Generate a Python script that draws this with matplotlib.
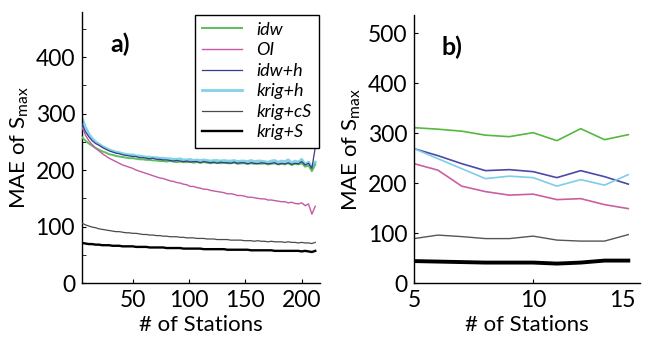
import numpy as np
import matplotlib
matplotlib.use('Agg')
import matplotlib.pyplot as plt

plt.rcParams['font.family'] = ['Lato', 'DejaVu Sans']
plt.rcParams['mathtext.default'] = 'regular'

# panel a) - values every 3 stations
idw_a = [258, 252, 247, 243, 239, 236, 233, 231, 228, 227,
         225, 224, 223, 222, 221, 221, 220, 219, 219, 218,
         218, 217, 217, 216, 216, 215, 216, 215, 214, 215,
         214, 214, 215, 213, 214, 213, 214, 213, 212, 213,
         213, 212, 213, 212, 212, 213, 211, 212, 212, 211,
         212, 211, 212, 211, 212, 210, 211, 212, 210, 211,
         210, 212, 209, 211, 210, 212, 206, 208, 198, 210]
oi_a = [276, 262, 252, 245, 239, 234, 229, 225, 221, 218,
        215, 212, 209, 207, 205, 203, 200, 198, 196, 194,
        192, 190, 188, 186, 185, 183, 181, 180, 178, 177,
        175, 174, 171, 171, 169, 168, 166, 166, 164, 163,
        162, 161, 160, 158, 158, 157, 155, 155, 154, 152,
        152, 151, 150, 149, 149, 147, 147, 146, 145, 144,
        144, 142, 143, 141, 140, 142, 137, 140, 122, 136]
idwh_a = [282, 268, 259, 252, 247, 244, 240, 237, 234, 232,
          230, 229, 227, 226, 225, 224, 224, 222, 222, 221,
          220, 221, 219, 219, 218, 218, 217, 216, 217, 216,
          215, 216, 214, 215, 215, 213, 215, 214, 213, 214,
          212, 214, 213, 213, 212, 214, 212, 213, 213, 211,
          213, 212, 211, 213, 212, 211, 212, 213, 210, 212,
          211, 213, 210, 212, 211, 215, 209, 212, 203, 240]
krigh_a = [292, 276, 264, 256, 250, 246, 242, 239, 236, 234,
           232, 231, 229, 228, 227, 227, 225, 225, 224, 223,
           223, 222, 222, 221, 221, 220, 220, 219, 219, 220,
           218, 218, 219, 217, 218, 217, 218, 217, 216, 217,
           217, 216, 217, 216, 216, 217, 215, 216, 216, 215,
           217, 215, 216, 216, 215, 214, 216, 217, 214, 216,
           215, 218, 213, 216, 214, 219, 210, 214, 205, 214]
krigcs_a = [106, 103, 101, 99, 98, 96, 95, 94, 93, 92,
            91, 91, 90, 89, 89, 88, 88, 87, 86, 86,
            85, 85, 84, 84, 83, 83, 82, 82, 82, 81,
            81, 80, 80, 80, 79, 79, 79, 78, 78, 78,
            77, 77, 77, 77, 76, 76, 76, 76, 75, 75,
            75, 74, 75, 74, 74, 73, 74, 73, 73, 73,
            72, 73, 72, 72, 71, 72, 71, 71, 70, 72]
krigs_a = [71, 70, 69, 69, 68, 68, 67, 67, 67, 66,
           66, 66, 65, 65, 65, 65, 64, 64, 64, 64,
           63, 63, 63, 63, 63, 62, 62, 62, 62, 62,
           61, 61, 61, 61, 61, 61, 60, 60, 60, 60,
           60, 60, 60, 59, 59, 59, 59, 59, 59, 59,
           58, 58, 58, 58, 58, 58, 58, 57, 57, 57,
           57, 57, 57, 57, 57, 56, 57, 56, 55, 57]
stations_a = np.arange(5, 5 + 3 * len(idw_a), 3)

# panel b)
stations_b = [5, 6, 7, 8, 9, 10, 11, 12, 13, 14]
idw_b = [311, 308, 304, 296, 293, 301, 285, 309, 287, 297]
oi_b = [239, 226, 194, 183, 176, 178, 167, 169, 157, 149]
idwh_b = [269, 255, 239, 225, 227, 223, 211, 225, 213, 198]
krigh_b = [269, 249, 229, 209, 214, 211, 194, 207, 196, 217]
krigcs_b = [89, 96, 93, 89, 89, 94, 86, 84, 84, 97]
krigs_b = [44, 43, 42, 41, 41, 41, 39, 41, 45, 45]

c_idw = '#5cbf5a'
c_oi = '#c45aa4'
c_idwh = '#3a3a8c'
c_krigh = '#82d3e6'
c_cs = '#4a4a4a'
c_s = '#000000'

fig = plt.figure(figsize=(6.46, 3.39), dpi=100)
ax1 = fig.add_axes([0.127, 0.165, 0.368, 0.80])
ax2 = fig.add_axes([0.641, 0.165, 0.350, 0.79])

ax1.plot(stations_a, krigh_a, color=c_krigh, lw=2.0, label='krig+h', zorder=2)
ax1.plot(stations_a, idw_a, color=c_idw, lw=1.4, label='idw', zorder=3)
ax1.plot(stations_a, idwh_a, color=c_idwh, lw=0.9, label='idw+h', zorder=4)
ax1.plot(stations_a, oi_a, color=c_oi, lw=1.0, label='OI', zorder=3)
ax1.plot(stations_a, krigcs_a, color=c_cs, lw=0.9, label='krig+cS', zorder=3)
ax1.plot(stations_a, krigs_a, color=c_s, lw=1.7, label='krig+S', zorder=3)

ax2.plot(stations_b, idw_b, color='#55b83f', lw=1.2)
ax2.plot(stations_b, idwh_b, color='#4a4aa8', lw=1.2)
ax2.plot(stations_b, krigh_b, color='#7ecde8', lw=1.2)
ax2.plot(stations_b, oi_b, color='#cc5fa0', lw=1.2)
ax2.plot(stations_b, krigcs_b, color='#555555', lw=1.0)
ax2.plot(stations_b, krigs_b, color='black', lw=2.8)

ax1.set_xlim(5, 216)
ax1.set_ylim(0, 480)
ax1.set_xticks([50, 100, 150, 200])
ax1.set_yticks([0, 100, 200, 300, 400])
ax1.set_yticks([50, 150, 250, 350, 450], minor=True)

ax2.set_xlim(5, 14.5)
ax2.set_ylim(0, 536)
ax2.set_xticks([5, 10])
ax2.set_xticks([13.75], minor=True)
ax2.set_xticklabels(['5', '10'])
ax2.set_xticklabels(['15'], minor=True)
ax2.set_yticks([0, 100, 200, 300, 400, 500])

for ax in (ax1, ax2):
    ax.spines['top'].set_visible(False)
    ax.spines['right'].set_visible(False)
    ax.spines['left'].set_linewidth(1.0)
    ax.spines['bottom'].set_linewidth(1.0)
    ax.tick_params(axis='both', which='both', direction='in', length=3,
                   labelsize=16.5, pad=5)
    ax.set_xlabel('# of Stations', fontsize=16, labelpad=3)
    ax.set_ylabel('MAE of S$_{max}$', fontsize=16, labelpad=3)
ax2.tick_params(axis='x', which='minor', length=0)

ax1.text(0.12, 0.88, 'a)', transform=ax1.transAxes, fontsize=18,
         fontweight='bold', va='center')
ax2.text(0.12, 0.88, 'b)', transform=ax2.transAxes, fontsize=18,
         fontweight='bold', va='center')

handles, labels = ax1.get_legend_handles_labels()
order = ['idw', 'OI', 'idw+h', 'krig+h', 'krig+cS', 'krig+S']
hmap = dict(zip(labels, handles))
leg = ax1.legend([hmap[k] for k in order], order, loc='upper right',
                 bbox_to_anchor=(0.995, 0.99), borderaxespad=0,
                 prop={'style': 'italic', 'size': 13}, handlelength=2.2,
                 labelspacing=0.25, fancybox=False, framealpha=1)
leg.get_frame().set_edgecolor('black')
leg.get_frame().set_linewidth(1.0)

fig.savefig('out.png', dpi=100)
